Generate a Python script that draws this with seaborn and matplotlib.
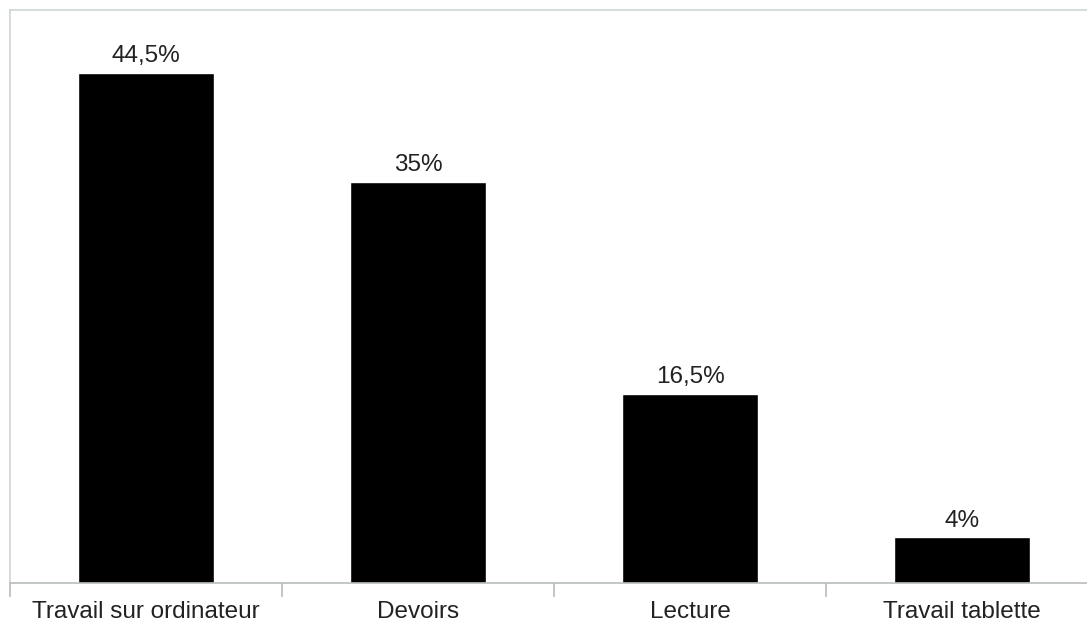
import matplotlib.pyplot as plt
import seaborn as sns
import pandas as pd
from matplotlib.ticker import FixedLocator

# Données
categories = ['Travail sur ordinateur', 'Devoirs', 'Lecture', 'Travail tablette']
valeurs = [44.5, 35, 16.5, 4]

data = pd.DataFrame({'Activite': categories, 'Pourcentage': valeurs})

sns.set_style('white')
plt.rcParams['font.family'] = ['Liberation Sans', 'DejaVu Sans']

fig = plt.figure(figsize=(10.87, 6.26), dpi=100)
ax = fig.add_axes([10 / 1087, 1 - 583 / 626, 1088 / 1087, 573 / 626])

sns.barplot(x='Activite', y='Pourcentage', data=data, color='black',
            width=0.5, saturation=1, ax=ax)

# Etiquettes des barres
etiquettes = [f"{v:g}%".replace('.', ',') for v in valeurs]
ax.bar_label(ax.containers[0], labels=etiquettes, padding=4,
             fontsize=17.5, color='#222222')

ax.set_ylim(0, 50)
ax.set_xlim(-0.5, len(categories) - 0.5)
ax.set_xlabel('')
ax.set_ylabel('')
ax.set_yticks([])

ax.tick_params(axis='x', which='major', length=0, pad=13,
               labelsize=17.5, labelcolor='#222222')
ax.xaxis.set_minor_locator(FixedLocator([i - 0.5 for i in range(len(categories) + 1)]))
ax.tick_params(axis='x', which='minor', bottom=True, length=10, width=1.2,
               color='#b8bcbc')

for cote in ['top', 'left', 'right']:
    ax.spines[cote].set_color('#cdd5d3')
    ax.spines[cote].set_linewidth(1.2)
ax.spines['bottom'].set_color('#b8bcbc')
ax.spines['bottom'].set_linewidth(1.2)

fig.savefig('out.png', dpi=100)
